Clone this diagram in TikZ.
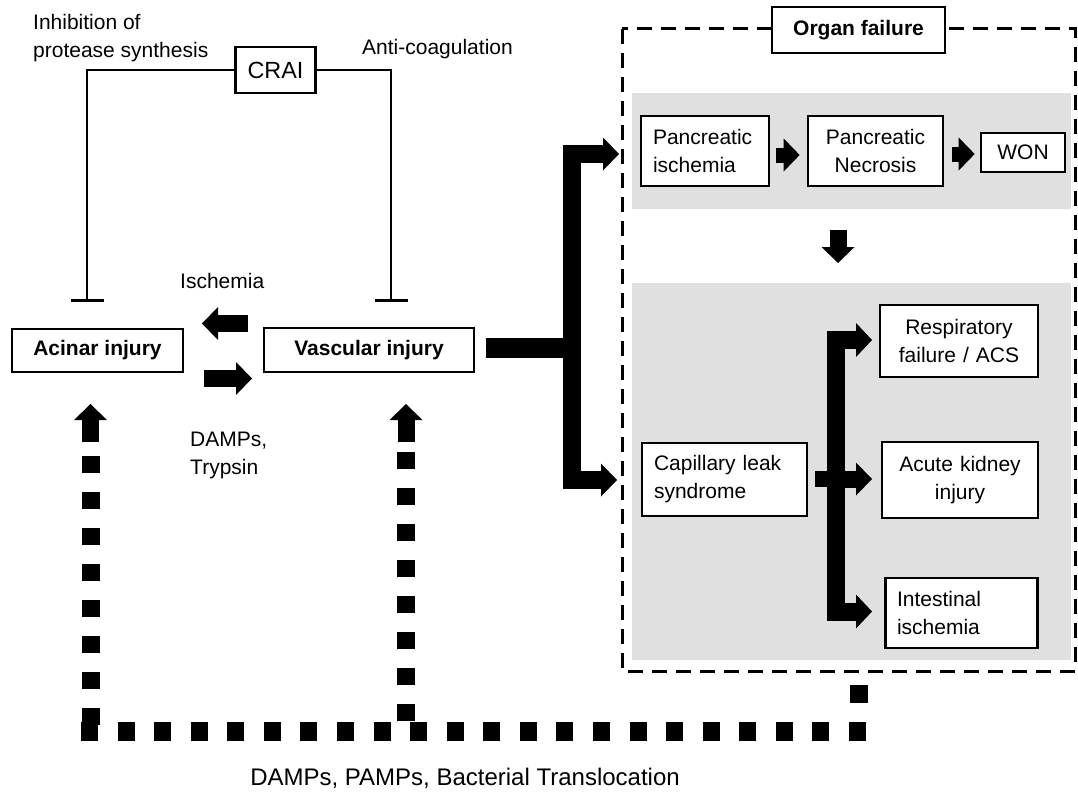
\documentclass[tikz,border=0pt]{standalone}
\usepackage{fontspec}
\setmainfont{Liberation Sans}
\usetikzlibrary{arrows.meta}
\definecolor{panelgray}{RGB}{224,224,224}
\newcommand\fnt{\fontsize{21}{28}\selectfont}
\begin{document}
\begin{tikzpicture}[x=1pt,y=-1pt,
  every node/.style={font=\fnt},
  box/.style={draw, line width=2.7pt, fill=white, inner xsep=12pt, inner ysep=0pt, align=center},
  lbox/.style={box, align=left},
  bold/.style={font=\fnt\bfseries},
  tip/.style={Triangle[width=33pt,length=16pt,line width=0pt]},
  big/.style={line width=17pt, -{Triangle[width=33pt,length=16pt,line width=0pt]}},
  dots/.style={line width=18pt, dash pattern=on 17pt off 19pt},
  inhib/.style={line width=2.7pt, -{Bar[width=33pt,line width=2.7pt]}},
  lbl/.style={inner sep=0pt, align=left},
]
\useasboundingbox (0,0) rectangle (1078,792);

% panels and organ failure frame
\fill[panelgray] (632,93) rectangle (1071,209);
\fill[panelgray] (632,283) rectangle (1071,660);
\draw[line width=3pt, dash pattern=on 15pt off 9pt] (622,29) rectangle (1075,671);
\node[box, bold, minimum width=173pt, minimum height=46pt] (organ) at (858.5,30) {Organ failure};

% left nodes
\node[box, font=\fontsize{23.4}{28}\selectfont, minimum width=77pt, minimum height=46pt] (crai) at (275.5,70) {CRAI};
\node[box, bold, minimum width=171pt, minimum height=43pt] (acinar) at (97.5,350.5) {Acinar injury};
\node[box, bold, minimum width=210pt, minimum height=44pt] (vasc) at (369,350) {Vascular injury};

% right nodes
\node[lbox, text width=104pt, minimum height=70pt] (pisch) at (705,151) {Pancreatic\\ischemia};
\node[box, text width=111pt, minimum height=70pt] (pnec) at (875.5,151) {Pancreatic\\Necrosis};
\node[box, minimum width=84pt, minimum height=39pt] (won) at (1023,152.5) {WON};
\node[lbox, text width=141pt, minimum height=73pt] (cap) at (724.5,479.5) {Capillary leak\\syndrome};
\node[box, text width=134pt, minimum height=72pt] (resp) at (959,341) {Respiratory\\failure / ACS};
\node[box, text width=132pt, minimum height=76pt] (aki) at (960,480) {Acute kidney\\injury};
\node[lbox, text width=129pt, inner xsep=11.5pt, minimum height=70pt] (intest) at (961.5,613) {Intestinal\\ischemia};

% labels
\node[lbl, anchor=north west] (lInh) at (33,13.7) {Inhibition of\\protease synthesis};
\node[lbl, anchor=base west] (lAnti) at (362,55) {Anti-coagulation};
\node[lbl, anchor=base west] (lIsch) at (180,288) {Ischemia};
\node[lbl, anchor=north west] (lDamps) at (190,432) {DAMPs,\\Trypsin};
\node[lbl, anchor=base, font=\fontsize{24}{28}\selectfont] (lBottom) at (465,785) {DAMPs, PAMPs, Bacterial Translocation};

% inhibition lines
\coordinate (tA) at (87,302);
\coordinate (tV) at (391,302);
\draw[inhib] (crai.west) -| (tA);
\draw[inhib] (crai.east) -| (tV);

% acinar <-> vascular
\coordinate (iS) at (248,323.5);
\coordinate (iE) at (202,323.5);
\coordinate (dS) at (204,378.5);
\coordinate (dE) at (252,378.5);
\draw[big] (iS) -- (iE);
\draw[big] (dS) -- (dE);

% up arrows and feedback dotted path
\coordinate (uaS) at (90.5,442);
\coordinate (uaE) at (90.5,404);
\coordinate (uvS) at (406,442);
\coordinate (uvE) at (406,404);
\draw[big] (uaS) -- (uaE);
\draw[big] (uvS) -- (uvE);
\coordinate (fA1) at (90.5,456);
\coordinate (fA2) at (90.5,741);
\coordinate (fV1) at (406,452);
\coordinate (fV2) at (406,722);
\coordinate (fB1) at (81,731.5);
\coordinate (fB2) at (868,731.5);
\coordinate (fO1) at (858.5,685);
\coordinate (fO2) at (858.5,722);
\draw[dots] (fA1) -- (fA2);
\draw[dots] (fV1) -- (fV2);
\draw[dots, line width=19pt, dash pattern=on 17pt off 19.57pt] (fB1) -- (fB2);
\draw[dots, dash pattern=on 18pt off 19pt] (fO1) -- (fO2);

% bracket from vascular injury
\coordinate (b1s) at ([xshift=11pt,yshift=2pt]vasc.east);
\coordinate (b1j) at (571.5,348);
\coordinate (b1t) at (619,154);
\coordinate (b1b) at (617,480);
\draw[line width=20pt] (b1s) -- (b1j);
\draw[line width=18pt, line join=miter, {Triangle[width=33pt,length=16pt,line width=0pt]}-{Triangle[width=33pt,length=16pt,line width=0pt]}]
  (b1t) -- (b1j |- b1t) -- (b1j |- b1b) -- (b1b);

% pancreatic chain
\draw[big, line width=15pt] ([xshift=6pt,yshift=-4pt]pisch.east) -- ([xshift=-7pt,yshift=-4pt]pnec.west);
\draw[big, line width=15pt] ([xshift=8pt,yshift=-3pt]pnec.east) -- ([xshift=-5pt,yshift=-1.5pt]won.west);
\coordinate (dnS) at (838,230);
\coordinate (dnE) at (838,263);
\draw[big] (dnS) -- (dnE);

% bracket from capillary leak
\coordinate (b2j) at (836,479);
\coordinate (b2t) at (872,340);
\coordinate (b2m) at (872,479);
\coordinate (b2b) at (872,611.5);
\draw[line width=16pt] ([xshift=7pt,yshift=0.5pt]cap.east) -- (b2j);
\draw[line width=18pt, line join=miter, {Triangle[width=34pt,length=16pt,line width=0pt]}-{Triangle[width=34pt,length=16pt,line width=0pt]}]
  (b2t) -- (b2j |- b2t) -- (b2j |- b2b) -- (b2b);
\draw[big] (b2j) -- (b2m);
\end{tikzpicture}
\end{document}
